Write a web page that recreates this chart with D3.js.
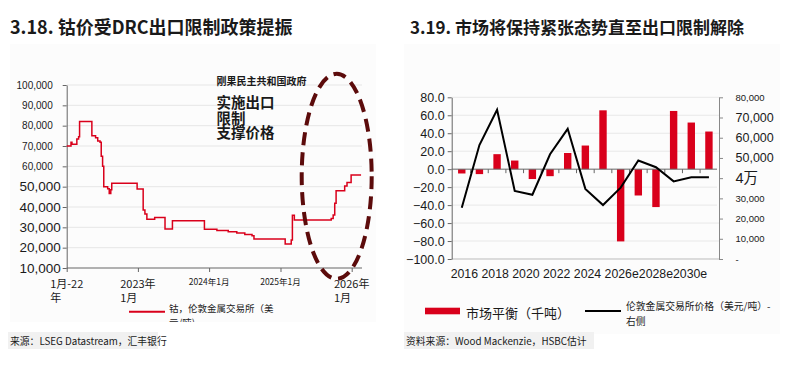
<!DOCTYPE html>
<html>
<head>
<meta charset="utf-8">
<script src="https://cdn.jsdelivr.net/npm/d3@7"></script>
<style>
  body { margin: 0; background: #fff; }
  svg { display: block; }
  text { font-family: "Liberation Sans", "Noto Sans CJK SC", sans-serif; fill: #1a1a1a; }
  .cjk { font-family: "Noto Sans CJK SC", sans-serif; }
</style>
</head>
<body>
<div id="chart"></div>
<script>
// ---- 左图数据：钴价（LME，美元/吨），阶梯线 ----
const priceDates = ["2022-01-01","2022-01-23","2022-01-28","2022-02-22","2022-03-03","2022-03-08",
  "2022-05-10","2022-05-29","2022-06-09","2022-06-21","2022-06-27","2022-07-04","2022-07-10",
  "2022-07-30","2022-08-07","2022-08-15","2022-08-20","2022-12-28","2023-01-28","2023-02-06",
  "2023-02-16","2023-03-28","2023-05-20","2023-06-27","2023-12-08","2024-02-10","2024-04-08",
  "2024-05-22","2024-07-02","2024-08-08","2024-08-18","2025-01-25","2025-02-25","2025-03-03",
  "2025-03-13","2025-09-18","2025-09-28","2025-10-06","2025-10-13","2025-11-26","2025-12-08",
  "2025-12-29","2026-02-18"];
const priceValues = [70000,71900,70800,73500,74500,82000,
  75000,74000,72500,71800,65000,60000,50000,
  49000,46700,48500,51700,48800,38500,36500,
  34000,34800,29200,33200,29000,28500,27800,
  27200,26500,25800,24300,21800,23800,36000,
  33600,34400,36100,41800,48000,50300,52100,
  55700,55700];
const priceTicks = [10000,20000,30000,40000,50000,60000,70000,80000,90000,100000];
const dateTicks = ["2022-01-01","2023-01-01","2024-01-01","2025-01-01","2026-01-01"];
const dateTickLabels = [["1月-22","年"],["2023年","1月"],["2024年1月"],["2025年1月"],["2026年","1月"]];
const noteLines = ["刚果民主共和国政府","实施出口","限制","支撑价格"];

// ---- 右图数据：市场平衡（千吨）与 LME 价格 ----
const years = ["2016","2017","2018","2019","2020","2021","2022","2023","2024","2025",
  "2026e","2027e","2028e","2029e","2030e"];
const yearLabels = ["2016","2018","2020","2022","2024","2026e","2028e","2030e"];
const balance = [-4.8,-5.5,16.7,9.6,-11,-7.8,18,26.3,65.5,-80.4,-29.3,-42.2,64.8,51.9,41.9];
const lmePrice = [25400,56400,73800,33700,31800,51800,64400,34700,26700,35300,48700,45400,38400,40400,40400];
const balanceTicks = [-100,-80,-60,-40,-20,0,20,40,60,80];
const lmeTicks = [0,10000,20000,30000,40000,50000,60000,70000,80000];

const RED = "#d9001b";
const parse = d3.timeParse("%Y-%m-%d");

const svg = d3.select("#chart").append("svg")
  .attr("width", 810).attr("height", 381);

// 面板淡底色
svg.append("rect").attr("x", 10).attr("y", 44).attr("width", 366).attr("height", 278).attr("fill", "#fcfcfc");
svg.append("rect").attr("x", 404).attr("y", 44).attr("width", 376).attr("height", 290).attr("fill", "#fcfcfc");

// 标题
svg.append("text").attr("class", "cjk").attr("x", 10).attr("y", 34)
  .attr("font-size", 18).attr("font-weight", "bold").text("3.18. 钴价受DRC出口限制政策提振");
svg.append("text").attr("class", "cjk").attr("x", 410).attr("y", 34)
  .attr("font-size", 17).attr("font-weight", "bold").text("3.19. 市场将保持紧张态势直至出口限制解除");

// ================= 左图 =================
const xL = d3.scaleTime().domain([parse("2022-01-01"), parse("2026-01-01")]).range([66.7, 351.7]);
const yL = d3.scaleLinear().domain([10000, 100000]).range([268, 85]);
const left = svg.append("g");

// 网格线
left.selectAll("line.grid").data(priceTicks.slice(1)).join("line")
  .attr("x1", 67).attr("x2", 362)
  .attr("y1", d => yL(d)).attr("y2", d => yL(d))
  .attr("stroke", "#e6e6e6");

// y 轴
const yAxisL = left.append("g").attr("transform", "translate(66.7,0)")
  .call(d3.axisLeft(yL).tickValues(priceTicks).tickSize(4).tickSizeOuter(0).tickFormat(d3.format(",")));
yAxisL.select(".domain").attr("stroke", "#666");
yAxisL.selectAll(".tick line").attr("stroke", "#666");
yAxisL.selectAll(".tick text")
  .attr("font-size", d => d <= 50000 ? 13.5 : 10)
  .attr("x", d => d <= 50000 ? -6 : -14)
  .attr("fill", "#1a1a1a").style("font-family", "Liberation Sans, sans-serif");

// x 轴
const xAxisL = left.append("g").attr("transform", "translate(0,268)")
  .call(d3.axisBottom(xL).tickValues(dateTicks.map(parse)).tickSize(4).tickSizeOuter(0).tickFormat(""));
xAxisL.select(".domain").attr("stroke", "#666").attr("d", "M66.7,0H362");
xAxisL.selectAll(".tick line").attr("stroke", "#666");

dateTicks.forEach((d, i) => {
  const lines = dateTickLabels[i];
  const small = lines.length === 1;
  const t = left.append("text").attr("class", "cjk")
    .attr("font-size", small ? 8.5 : 11)
    .attr("y", small ? 285 : 288);
  lines.forEach((s, j) => t.append("tspan").attr("dy", j ? 13.5 : 0).text(s));
  const w = t.select("tspan").node().getComputedTextLength();
  t.selectAll("tspan").attr("x", xL(parse(d)) - w / 2);
});

// 价格线
const priceData = priceDates.map((d, i) => ({date: parse(d), value: priceValues[i]}));
left.append("path").datum(priceData)
  .attr("fill", "none").attr("stroke", RED).attr("stroke-width", 1.5)
  .attr("d", d3.line().x(d => xL(d.date)).y(d => yL(d.value)).curve(d3.curveStepAfter));

// 注释
const noteY = [85, 108, 124, 138];
noteLines.forEach((s, i) => {
  left.append("text").attr("class", "cjk").attr("x", 216.5).attr("y", noteY[i])
    .attr("font-size", i === 0 ? 10 : 14.5).attr("font-weight", "bold").attr("fill", "#000").text(s);
});

// 虚线椭圆
left.append("ellipse")
  .attr("cx", 336.7).attr("cy", 176.3).attr("rx", 35).attr("ry", 102.5)
  .attr("fill", "none").attr("stroke", "#5c0b0b").attr("stroke-width", 4)
  .attr("stroke-dasharray", "13,7");

// 图例（下半行被裁掉）
svg.append("clipPath").attr("id", "legClip").append("rect")
  .attr("x", 0).attr("y", 290).attr("width", 400).attr("height", 32);
left.append("line").attr("x1", 129).attr("x2", 165).attr("y1", 311.7).attr("y2", 311.7)
  .attr("stroke", RED).attr("stroke-width", 2);
const legL = left.append("text").attr("class", "cjk").attr("font-size", 9.5)
  .attr("clip-path", "url(#legClip)").attr("y", 312);
legL.append("tspan").attr("x", 169).text("钴，伦敦金属交易所（美");
legL.append("tspan").attr("x", 169).attr("dy", 14).text("元/吨)");

// 来源
svg.append("rect").attr("x", 8).attr("y", 332).attr("width", 150).attr("height", 17).attr("fill", "#f1f1f1");
svg.append("text").attr("class", "cjk").attr("x", 10).attr("y", 345).attr("font-size", 9.8)
  .attr("fill", "#333").text("来源：LSEG Datastream，汇丰银行");

// ================= 右图 =================
const xR = d3.scalePoint().domain(years).range([451.7, 719]).padding(0.57);
const yR = d3.scaleLinear().domain([-100, 80]).range([259, 97.3]);
const yR2 = d3.scaleLinear().domain([0, 80000]).range([259, 97.3]);
const step = xR.step();
const right = svg.append("g");

// 网格线
right.selectAll("line.grid").data(balanceTicks.filter(d => d !== 0)).join("line")
  .attr("x1", 451.7).attr("x2", 719)
  .attr("y1", d => yR(d)).attr("y2", d => yR(d))
  .attr("stroke", d => d === -100 ? "#bbb" : "#e8e8e8");

// 柱
right.selectAll("rect.bar").data(years).join("rect")
  .attr("x", d => xR(d) - 3.7).attr("width", 7.4)
  .attr("y", (d, i) => yR(Math.max(0, balance[i])))
  .attr("height", (d, i) => Math.abs(yR(balance[i]) - yR(0)))
  .attr("fill", RED);

// 零轴及其刻度
right.append("line").attr("x1", 451.7).attr("x2", 719).attr("y1", yR(0)).attr("y2", yR(0))
  .attr("stroke", "#666");
right.selectAll("line.zt").data(years.slice(1)).join("line")
  .attr("x1", d => xR(d) - step / 2).attr("x2", d => xR(d) - step / 2)
  .attr("y1", yR(0)).attr("y2", yR(0) + 4).attr("stroke", "#666");

// 左 y 轴
const yAxisR = right.append("g").attr("transform", "translate(451.7,0)")
  .call(d3.axisLeft(yR).tickValues(balanceTicks).tickSize(4).tickSizeOuter(0).tickFormat(d3.format(".1f")));
yAxisR.select(".domain").attr("stroke", "#666");
yAxisR.selectAll(".tick line").attr("stroke", "#666");
yAxisR.selectAll(".tick text").attr("font-size", 12.5).attr("x", -7).attr("fill", "#1a1a1a");

// 右 y 轴
const yAxisR2 = right.append("g").attr("transform", "translate(719,0)")
  .call(d3.axisRight(yR2).tickValues(lmeTicks).tickSize(4).tickSizeOuter(0)
    .tickFormat(d => d === 0 ? "-" : d === 40000 ? "4万" : d3.format(",")(d)));
yAxisR2.select(".domain").attr("stroke", "#888");
yAxisR2.selectAll(".tick line").attr("stroke", "#888");
yAxisR2.selectAll(".tick text").attr("x", 16.5).attr("fill", "#1a1a1a")
  .attr("font-size", d => d === 40000 ? 14.5 : (d >= 50000 && d <= 70000) ? 12.5 : 9.5);
// “4万”标签的白底遮住了一段轴线
yAxisR2.insert("rect", ":first-child").attr("x", -2).attr("y", 168).attr("width", 50).attr("height", 39)
  .attr("fill", "#fcfcfc");

// 价格折线（右轴）
right.append("path").datum(lmePrice)
  .attr("fill", "none").attr("stroke", "#000").attr("stroke-width", 2)
  .attr("d", d3.line().x((d, i) => xR(years[i])).y(d => yR2(d)));

// x 轴标签：Excel 中挤在一起的一行
const xt = right.append("text").attr("x", 450.7).attr("y", 278).attr("font-size", 12.3);
yearLabels.forEach((s, i) => {
  const sep = i === 0 || yearLabels[i - 1].endsWith("e") ? "" : " ";
  xt.append("tspan").text(sep + s);
});

// 图例
right.append("rect").attr("x", 425).attr("y", 307.7).attr("width", 35).attr("height", 6.6).attr("fill", RED);
right.append("text").attr("class", "cjk").attr("x", 466).attr("y", 318).attr("font-size", 13)
  .text("市场平衡（千吨）");
right.append("line").attr("x1", 585).attr("x2", 621).attr("y1", 311).attr("y2", 311)
  .attr("stroke", "#000").attr("stroke-width", 2);
const legR = right.append("text").attr("class", "cjk").attr("font-size", 9.8).attr("y", 310);
legR.append("tspan").attr("x", 626).text("伦敦金属交易所价格（美元/吨）-");
legR.append("tspan").attr("x", 626).attr("dy", 15).text("右侧");

// 来源
svg.append("rect").attr("x", 404).attr("y", 332).attr("width", 190).attr("height", 17).attr("fill", "#f1f1f1");
svg.append("text").attr("class", "cjk").attr("x", 406).attr("y", 345).attr("font-size", 9.8)
  .attr("fill", "#333").text("资料来源：Wood Mackenzie，HSBC估计");
</script>
</body>
</html>
